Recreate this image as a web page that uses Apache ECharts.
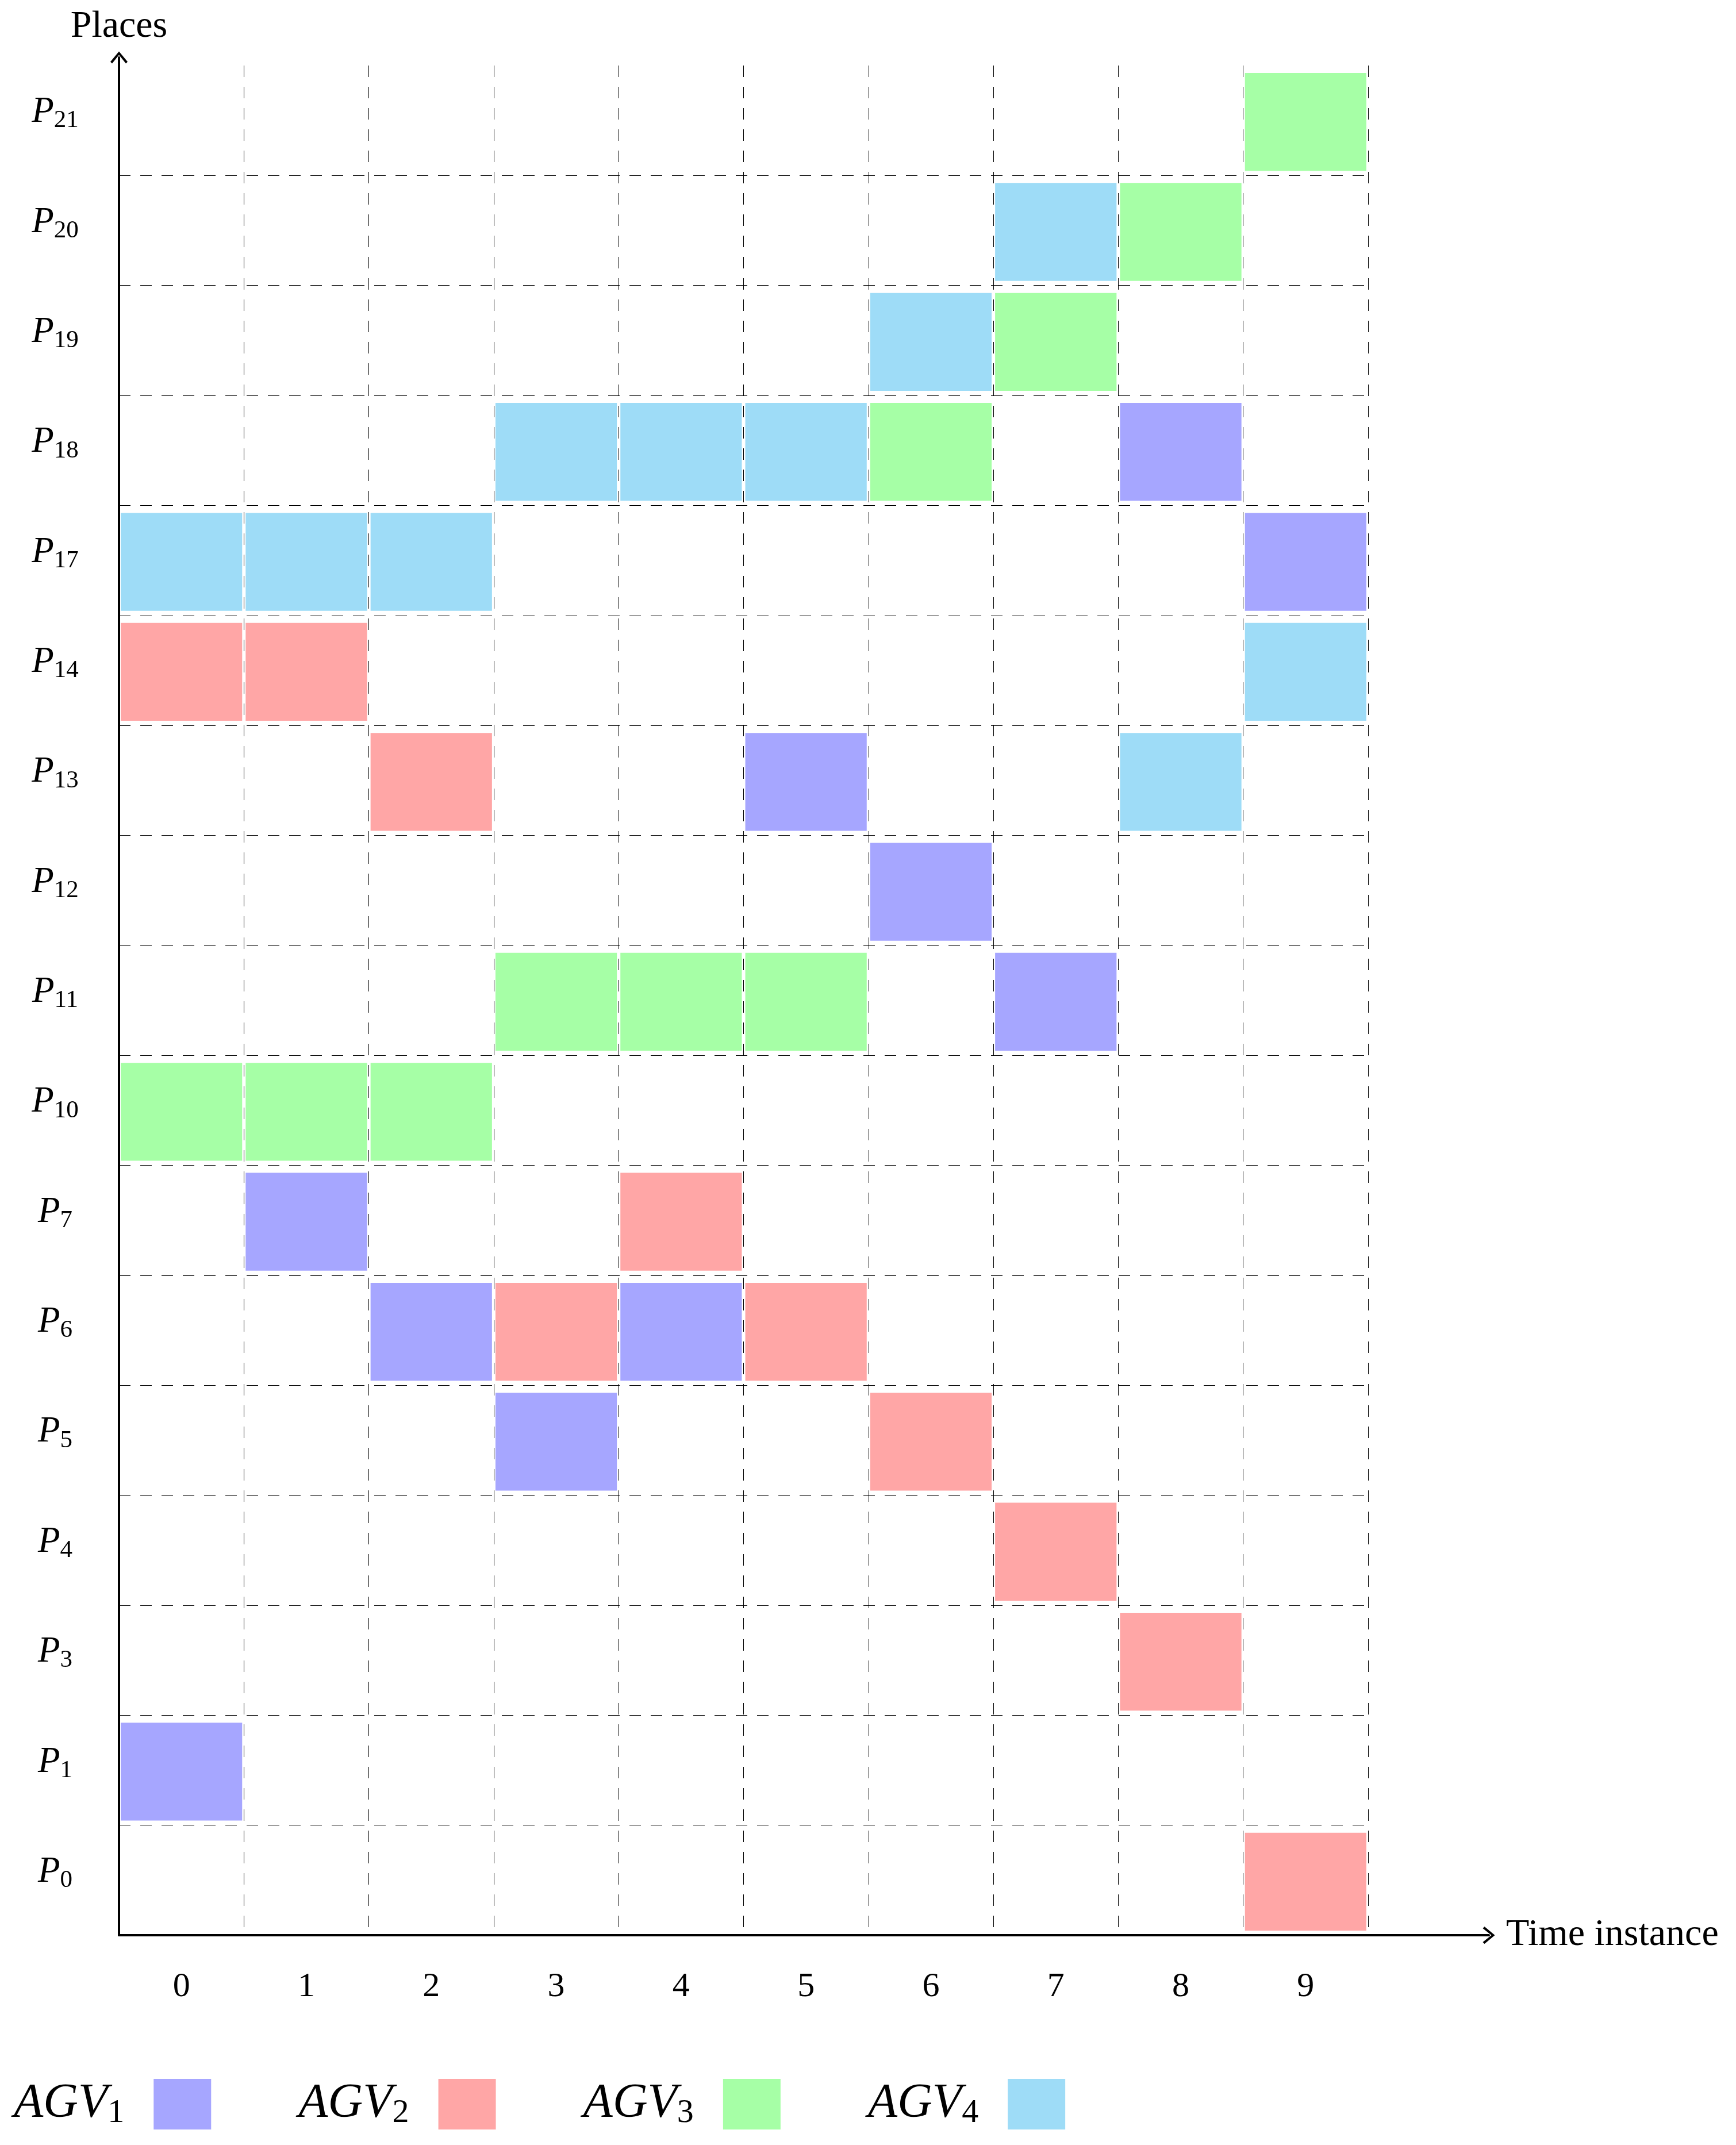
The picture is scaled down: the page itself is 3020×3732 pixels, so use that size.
<!DOCTYPE html>
<html>
<head>
<meta charset="utf-8">
<script src="https://cdn.jsdelivr.net/npm/echarts@6/dist/echarts.min.js"></script>
<style>
html,body{margin:0;padding:0;background:#fff;}
#c{width:3020px;height:3732px;}
</style>
</head>
<body>
<div id="c"></div>
<script>
// ---- data ----
const timeInstances = ['0','1','2','3','4','5','6','7','8','9'];
const places = ['P0','P1','P3','P4','P5','P6','P7','P10','P11','P12','P13','P14','P17','P18','P19','P20','P21'];
const agvNames = ['AGV1','AGV2','AGV3','AGV4'];
const agv1Places = ['P1','P7','P6','P5','P6','P13','P12','P11','P18','P17'];
const agv2Places = ['P14','P14','P13','P6','P7','P6','P5','P4','P3','P0'];
const agv3Places = ['P10','P10','P10','P11','P11','P11','P18','P19','P20','P21'];
const agv4Places = ['P17','P17','P17','P18','P18','P18','P19','P20','P13','P14'];
const agvColors = ['#a6a6ff','#ffa6a6','#a6ffa6','#9edcf7'];

const FONT = '"Liberation Serif", "DejaVu Serif", serif';
const chart = echarts.init(document.getElementById('c'), null, {renderer:'canvas'});

const agvPlaces = [agv1Places, agv2Places, agv3Places, agv4Places];

function renderBlock(params, api) {
  const c = api.coord([api.value(0), api.value(1)]);
  const s = api.size([1, 1]);
  const w = s[0], h = s[1];
  return {
    type: 'rect',
    shape: { x: c[0] - w/2 + w*0.014, y: c[1] - h/2 + h*0.068, width: w*0.972, height: h*0.89 },
    style: { fill: api.visual('color') }
  };
}

const series = agvNames.map((n, k) => ({
  name: n,
  type: 'custom',
  xAxisIndex: 0, yAxisIndex: 0,
  itemStyle: { color: agvColors[k] },
  encode: { x: 0, y: 1 },
  renderItem: renderBlock,
  data: agvPlaces[k].map((p, t) => [t, p]),
  z: 2
}));

const splitColors = places.map(() => '#000');
splitColors.push('rgba(0,0,0,0)');

const arrowPath = 'path://M10 0 L20 12 L18 14 L10 4 L2 14 L0 12 Z';

const option = {
  backgroundColor: '#fff',
  animation: false,
  grid: [
    { left: 207, right: 640, top: 114, bottom: 365 },
    { left: 207, right: 430, top: 100, bottom: 365 }
  ],
  legend: {
    left: 24, top: 3617, padding: 0,
    itemWidth: 100, itemHeight: 88, itemGap: 152,
    align: 'right',
    icon: 'rect',
    data: agvNames,
    formatter: n => '{m|' + n.slice(0,3) + '}{s|' + n.slice(3) + '}',
    textStyle: {
      color: '#000',
      rich: {
        m: { fontFamily: FONT, fontStyle: 'italic', fontSize: 84, lineHeight: 90, color: '#000' },
        s: { fontFamily: FONT, fontSize: 58, lineHeight: 44, verticalAlign: 'bottom', padding: [0,46,0,0], color: '#000' }
      }
    }
  },
  xAxis: [
    {
      type: 'category', gridIndex: 0, data: timeInstances,
      axisLine: { show: false }, axisTick: { show: false },
      axisLabel: { interval: 0, margin: 60, fontFamily: FONT, fontSize: 60, color: '#000' },
      splitLine: { show: true, interval: 0, lineStyle: { color: '#000', width: 1, type: [20,17] } }
    },
    {
      type: 'value', gridIndex: 1, min: 0, max: 1,
      axisLine: { show: true, symbol: ['none', arrowPath], symbolSize: [30, 22], lineStyle: { color: '#000', width: 4 } },
      axisTick: { show: false }, axisLabel: { show: false }, splitLine: { show: false },
      name: 'Time instance', nameLocation: 'end', nameGap: 30,
      nameTextStyle: { fontFamily: FONT, fontSize: 66, color: '#000', verticalAlign: 'middle' },
      z: 5
    }
  ],
  yAxis: [
    {
      type: 'category', gridIndex: 0, data: places,
      axisLine: { show: false }, axisTick: { show: false },
      axisLabel: {
        interval: 0, margin: 111, align: 'center', padding: [0,0,28,0],
        formatter: v => '{m|' + v.slice(0,1) + '}{s|' + v.slice(1) + '}',
        rich: {
          m: { fontFamily: FONT, fontStyle: 'italic', fontSize: 63, lineHeight: 72, color: '#000' },
          s: { fontFamily: FONT, fontSize: 43, lineHeight: 36, verticalAlign: 'bottom', color: '#000' }
        }
      },
      splitLine: { show: true, interval: 0, lineStyle: { color: splitColors, width: 1, type: [20,17] } }
    },
    {
      type: 'value', gridIndex: 1, min: 0, max: 1,
      axisLine: { show: true, symbol: ['none', arrowPath], symbolSize: [30, 22], lineStyle: { color: '#000', width: 4 } },
      axisTick: { show: false }, axisLabel: { show: false }, splitLine: { show: false },
      name: 'Places', nameLocation: 'end', nameGap: 20,
      nameTextStyle: { fontFamily: FONT, fontSize: 66, color: '#000' },
      z: 5
    }
  ],
  series: series
};
chart.setOption(option);
</script>
</body>
</html>
